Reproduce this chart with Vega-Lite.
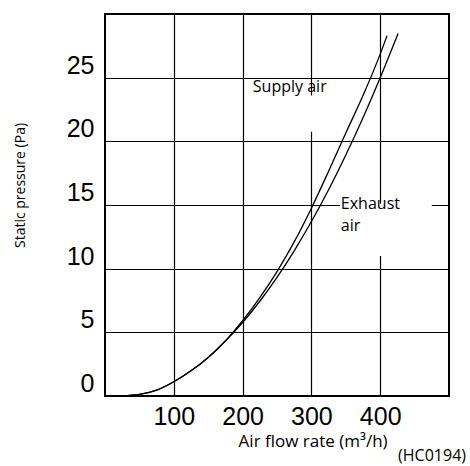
{
  "$schema": "https://vega.github.io/schema/vega-lite/v6.json",
  "width": 344,
  "height": 382,
  "autosize": {"type": "none"},
  "padding": {"left": 105, "top": 14, "right": 21, "bottom": 70},
  "background": "white",
  "title": {
    "text": "(HC0194)",
    "orient": "bottom",
    "anchor": "end",
    "frame": "group",
    "font": "Open Sans",
    "fontSize": 16,
    "fontWeight": "normal",
    "color": "black",
    "offset": -1,
    "dx": 17
  },
  "datasets": {
    "curves": [
      {"series": "Supply air", "x": 25, "y": 0},
      {"series": "Supply air", "x": 50, "y": 0.12},
      {"series": "Supply air", "x": 75, "y": 0.46},
      {"series": "Supply air", "x": 100, "y": 1.12},
      {"series": "Supply air", "x": 125, "y": 1.98},
      {"series": "Supply air", "x": 150, "y": 3.03},
      {"series": "Supply air", "x": 175, "y": 4.32},
      {"series": "Supply air", "x": 200, "y": 5.91},
      {"series": "Supply air", "x": 225, "y": 7.72},
      {"series": "Supply air", "x": 250, "y": 9.77},
      {"series": "Supply air", "x": 275, "y": 12.1},
      {"series": "Supply air", "x": 300, "y": 14.75},
      {"series": "Supply air", "x": 325, "y": 17.65},
      {"series": "Supply air", "x": 350, "y": 20.65},
      {"series": "Supply air", "x": 375, "y": 23.6},
      {"series": "Supply air", "x": 400, "y": 26.85},
      {"series": "Supply air", "x": 410, "y": 28.3},
      {"series": "Exhaust air", "x": 25, "y": 0},
      {"series": "Exhaust air", "x": 50, "y": 0.12},
      {"series": "Exhaust air", "x": 75, "y": 0.46},
      {"series": "Exhaust air", "x": 100, "y": 1.12},
      {"series": "Exhaust air", "x": 125, "y": 1.98},
      {"series": "Exhaust air", "x": 150, "y": 3.03},
      {"series": "Exhaust air", "x": 175, "y": 4.32},
      {"series": "Exhaust air", "x": 200, "y": 5.77},
      {"series": "Exhaust air", "x": 225, "y": 7.44},
      {"series": "Exhaust air", "x": 250, "y": 9.31},
      {"series": "Exhaust air", "x": 275, "y": 11.4},
      {"series": "Exhaust air", "x": 300, "y": 13.7},
      {"series": "Exhaust air", "x": 325, "y": 16.2},
      {"series": "Exhaust air", "x": 350, "y": 18.93},
      {"series": "Exhaust air", "x": 375, "y": 21.86},
      {"series": "Exhaust air", "x": 400, "y": 25.0},
      {"series": "Exhaust air", "x": 426, "y": 28.47}
    ],
    "labels": [
      {"label": "Supply air", "x": 214.9, "y": 23.9},
      {"label": "Exhaust\nair", "x": 342.8, "y": 14.7}
    ],
    "boxes": [
      {"x": 215, "x2": 335, "y": 20.75, "y2": 23.6},
      {"x": 341.7, "x2": 475, "y": 11.0, "y2": 15.1}
    ]
  },
  "encoding": {
    "x": {
      "field": "x",
      "type": "quantitative",
      "scale": {"domain": [0, 500], "nice": false, "zero": false},
      "axis": {
        "values": [100, 200, 300, 400],
        "title": "Air flow rate (m³/h)",
        "titleFont": "Open Sans",
        "titleFontSize": 17,
        "titleFontWeight": "normal",
        "titleColor": "black",
        "titleX": 207.6,
        "titleY": 50,
        "titleBaseline": "alphabetic",
        "titleAnchor": null,
        "titleAlign": "center",
        "labelFont": "Liberation Sans",
        "labelFontSize": 25,
        "labelColor": "black",
        "labelPadding": 8,
        "labelBaseline": "top"
      }
    },
    "y": {
      "field": "y",
      "type": "quantitative",
      "scale": {"domain": [0, 30], "nice": false, "zero": false},
      "axis": {
        "values": [0, 5, 10, 15, 20, 25],
        "title": "Static pressure (Pa)",
        "titleFont": "Open Sans",
        "titleFontSize": 14,
        "titleFontWeight": "normal",
        "titleColor": "black",
        "titleX": -84.5,
        "titleY": 171,
        "titleAngle": -90,
        "titleBaseline": "middle",
        "titleAlign": "center",
        "labelFont": "Liberation Sans",
        "labelFontSize": 25,
        "labelColor": "black",
        "labelPadding": 11,
        "labelBaseline": "middle",
        "labelOffset": -12.5
      }
    }
  },
  "layer": [
    {
      "data": {"name": "boxes"},
      "mark": {"type": "rect", "fill": "white", "stroke": null},
      "encoding": {
        "x2": {"field": "x2"},
        "y2": {"field": "y2"}
      }
    },
    {
      "data": {"name": "curves"},
      "mark": {"type": "line", "color": "black", "strokeWidth": 1.3, "interpolate": "monotone"},
      "encoding": {
        "detail": {"field": "series", "type": "nominal"},
        "order": {"field": "x", "type": "quantitative"}
      }
    },
    {
      "data": {"name": "labels"},
      "mark": {
        "type": "text",
        "align": "left",
        "baseline": "alphabetic",
        "font": "Open Sans",
        "fontSize": 16,
        "color": "black",
        "lineBreak": "\n",
        "lineHeight": 22
      },
      "encoding": {
        "text": {"field": "label", "type": "nominal"}
      }
    }
  ],
  "config": {
    "view": {"stroke": "black", "strokeWidth": 2},
    "axis": {
      "domain": false,
      "ticks": false,
      "grid": true,
      "gridColor": "black",
      "gridWidth": 1.2,
      "gridOpacity": 1
    }
  }
}
